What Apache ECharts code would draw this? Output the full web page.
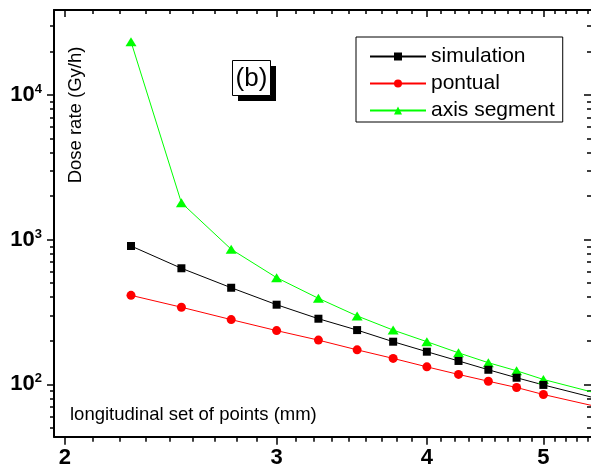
<!DOCTYPE html>
<html>
<head>
<meta charset="utf-8">
<script src="https://cdn.jsdelivr.net/npm/echarts@6/dist/echarts.min.js"></script>
<style>
  html, body { margin: 0; padding: 0; background: #fff; }
  #chart { width: 591px; height: 471px; }
</style>
</head>
<body>
<div id="chart"></div>
<script>
// Longitudinal positions (mm) and dose rates (Gy/h)
const xValues = [2.27, 2.5, 2.75, 3, 3.25, 3.5, 3.75, 4, 4.25, 4.5, 4.75, 5, 5.5];
const simulation = [904, 634, 465, 355, 284, 237, 197, 168, 145, 126, 111, 99, 81];
const pontual = [412, 341, 280, 235, 202, 173, 151, 132, 117, 105, 95, 85, 71];
const axisSegment = [23360, 1800, 858, 546, 393, 297, 237, 197, 165, 141, 124, 108, 88];

// Axis ticks
const xTickLabels = [2, 3, 4, 5];
const yTickLabels = [100, 1000, 10000];
const yMinorTicks = [50, 60, 70, 80, 90, 200, 300, 400, 500, 600, 700, 800, 900,
  2000, 3000, 4000, 5000, 6000, 7000, 8000, 9000, 20000, 30000];
// minor ticks split each unit of the x axis into nine steps
const xMinorTicks = [];
[2, 3, 4, 5].forEach(function (base) {
  for (let k = 1; k <= 8; k++) xMinorTicks.push(base + k / 9);
});

const X_MIN = 1.9588, X_MAX = 5.4773;
const Y_MIN = 43.42, Y_MAX = 38690;
const FONT = "'Liberation Sans', Arial, Helvetica, sans-serif";

function pairs(xs, ys) {
  return xs.map(function (x, i) { return [x, ys[i]]; });
}

const tickStyle = { color: '#000', width: 1.5 };
const lineStyle = { color: '#000', width: 2 };

function logAxis(opts) {
  return Object.assign({
    type: 'log',
    logBase: 10,
    splitLine: { show: false },
    minorTick: { show: false },
    minorSplitLine: { show: false },
    axisLabel: { show: false },
    axisLine: { show: false },
    silent: true
  }, opts);
}

const chart = echarts.init(document.getElementById('chart'), null, { renderer: 'canvas' });

const gridBox = { left: 54, top: 10, width: 538, height: 426.7 };

chart.setOption({
  animation: false,
  backgroundColor: '#fff',
  grid: [
    Object.assign({}, gridBox),
    Object.assign({}, gridBox)
  ],
  xAxis: [
    logAxis({
      gridIndex: 0, position: 'bottom', min: X_MIN, max: X_MAX,
      axisLine: { show: true, onZero: false, lineStyle: lineStyle },
      axisTick: { show: true, customValues: xTickLabels, length: 8, lineStyle: tickStyle },
      axisLabel: {
        show: true, customValues: xTickLabels,
        formatter: function (v) { return String(Math.round(v)); },
        margin: 10, fontSize: 22, fontWeight: 'bold', color: '#000', fontFamily: FONT
      }
    }),
    logAxis({
      gridIndex: 0, position: 'top', min: X_MIN, max: X_MAX,
      axisLine: { show: true, onZero: false, lineStyle: lineStyle },
      axisTick: { show: true, inside: true, customValues: xTickLabels, length: 7, lineStyle: tickStyle }
    }),
    logAxis({
      gridIndex: 1, position: 'bottom', min: X_MIN, max: X_MAX,
      axisTick: { show: true, customValues: xMinorTicks, length: 5, lineStyle: tickStyle }
    }),
    logAxis({
      gridIndex: 1, position: 'top', min: X_MIN, max: X_MAX,
      axisTick: { show: true, inside: true, customValues: xMinorTicks, length: 4, lineStyle: tickStyle }
    })
  ],
  yAxis: [
    logAxis({
      gridIndex: 0, position: 'left', min: Y_MIN, max: Y_MAX,
      axisLine: { show: true, onZero: false, lineStyle: lineStyle },
      axisTick: { show: true, customValues: yTickLabels, length: 7, lineStyle: tickStyle },
      axisLabel: {
        show: true, customValues: yTickLabels, margin: 12,
        formatter: function (v) { return '{b|10}{s|' + Math.round(Math.log10(v)) + '}'; },
        rich: {
          b: { fontSize: 22, fontWeight: 'bold', color: '#000', fontFamily: FONT, lineHeight: 24 },
          s: { fontSize: 13, fontWeight: 'bold', color: '#000', fontFamily: FONT, lineHeight: 13, verticalAlign: 'top' }
        }
      }
    }),
    logAxis({
      gridIndex: 0, position: 'right', min: Y_MIN, max: Y_MAX,
      axisLine: { show: false },
      axisTick: { show: true, inside: true, customValues: yTickLabels, length: 7, lineStyle: tickStyle }
    }),
    logAxis({
      gridIndex: 1, position: 'left', min: Y_MIN, max: Y_MAX,
      axisTick: { show: true, customValues: yMinorTicks, length: 4, lineStyle: tickStyle }
    }),
    logAxis({
      gridIndex: 1, position: 'right', min: Y_MIN, max: Y_MAX,
      axisTick: { show: true, inside: true, customValues: yMinorTicks, length: 4, lineStyle: tickStyle }
    })
  ],
  legend: {
    data: ['simulation', 'pontual', 'axis segment'],
    orient: 'vertical',
    left: 356, top: 37,
    padding: [9, 8, 1, 13],
    itemWidth: 56, itemHeight: 10, itemGap: 6,
    borderColor: '#000', borderWidth: 1, borderRadius: 0,
    backgroundColor: '#fff',
    selectedMode: false,
    textStyle: { fontSize: 21, fontFamily: FONT, color: '#000' }
  },
  series: [
    {
      name: 'axis segment', type: 'line', xAxisIndex: 0, yAxisIndex: 0,
      data: pairs(xValues, axisSegment),
      symbol: 'triangle', symbolSize: [11, 9],
      lineStyle: { color: '#00ff00', width: 1 },
      itemStyle: { color: '#00ff00' },
      clip: true
    },
    {
      name: 'simulation', type: 'line', xAxisIndex: 0, yAxisIndex: 0,
      data: pairs(xValues, simulation),
      symbol: 'rect', symbolSize: 8,
      lineStyle: { color: '#000', width: 1 },
      itemStyle: { color: '#000' },
      clip: true
    },
    {
      name: 'pontual', type: 'line', xAxisIndex: 0, yAxisIndex: 0,
      data: pairs(xValues, pontual),
      symbol: 'circle', symbolSize: 9,
      lineStyle: { color: '#ff0000', width: 1 },
      itemStyle: { color: '#ff0000' },
      clip: true
    }
  ],
  graphic: [
    {
      type: 'text', x: 75.5, y: 115, rotation: Math.PI / 2,
      style: {
        text: 'Dose rate (Gy/h)', fontSize: 18.5, fontFamily: FONT, fill: '#000',
        align: 'center', verticalAlign: 'middle'
      }
    },
    {
      type: 'text', x: 70, y: 415,
      style: {
        text: 'longitudinal set of points (mm)', fontSize: 18.5, fontFamily: FONT, fill: '#000',
        align: 'left', verticalAlign: 'middle'
      }
    },
    {
      type: 'group', x: 232.5, y: 60.5,
      children: [
        { type: 'rect', shape: { x: 5.5, y: 5.5, width: 38, height: 35 }, style: { fill: '#000' } },
        { type: 'rect', shape: { x: 0, y: 0, width: 38, height: 35 }, style: { fill: '#fff', stroke: '#000', lineWidth: 1 } },
        {
          type: 'text', x: 19, y: 18.5,
          style: { text: '(b)', fontSize: 26, fontFamily: FONT, fill: '#000', align: 'center', verticalAlign: 'middle' }
        }
      ]
    }
  ]
});
</script>
</body>
</html>
